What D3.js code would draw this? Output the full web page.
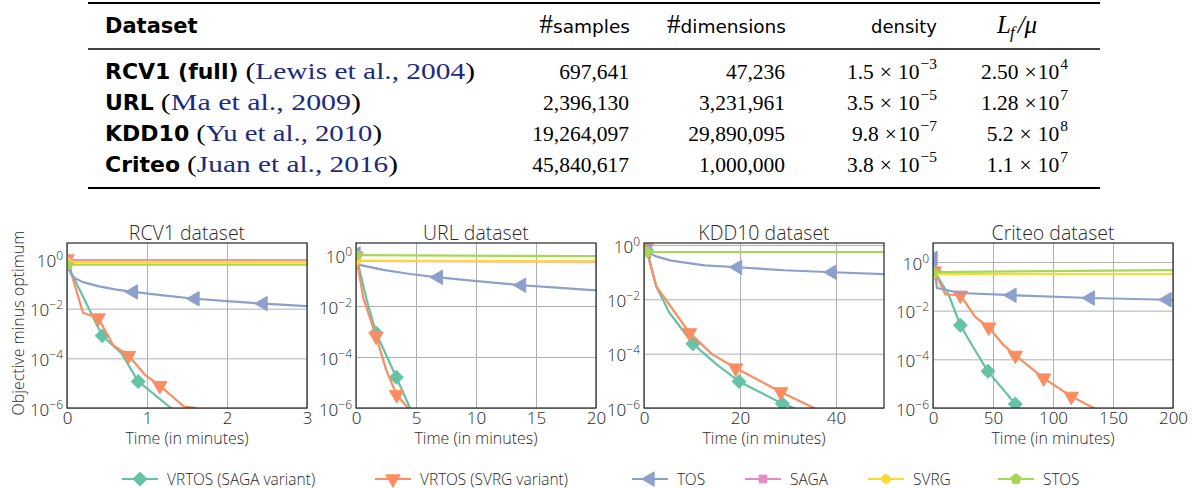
<!DOCTYPE html>
<html><head><meta charset="utf-8">
<script src="https://cdn.jsdelivr.net/npm/d3@7"></script>
<style>
body{margin:0;background:#fff;}
svg{display:block;}
</style></head>
<body><svg id="c" width="1192" height="488"></svg>
<script>
// ================= DATA =================
// ---- table ----
const tableHeaders = ["Dataset", "samples", "dimensions", "density", "Lf/mu"];
const datasetNames = ["RCV1 (full)", "URL", "KDD10", "Criteo"];
const citeAuthors = ["Lewis et al.", "Ma et al.", "Yu et al.", "Juan et al."];
const citeYears = ["2004", "2009", "2010", "2016"];
const nSamples = ["697,641", "2,396,130", "19,264,097", "45,840,617"];
const nDimensions = ["47,236", "3,231,961", "29,890,095", "1,000,000"];
const densityMant = ["1.5", "3.5", "9.8", "3.8"];
const densitySpaced = [true, true, false, true];
const densityExp = ["−3", "−5", "−7", "−5"];
const condMant = ["2.50", "1.28", "5.2", "1.1"];
const condSpaced = [false, false, true, true];
const condExp = ["4", "7", "8", "7"];

// ---- plots ----
const plotTitles = ["RCV1 dataset", "URL dataset", "KDD10 dataset", "Criteo dataset"];
const xMax = [3, 20, 50, 200];
const xTicks = [[0, 1, 2, 3], [0, 5, 10, 15, 20], [0, 20, 40], [0, 50, 100, 150, 200]];
const yTop = [4.4, 2.95, 1.18, 6.0];
const yTicks = [1, 1e-2, 1e-4, 1e-6];
const yTickExp = ["0", "−2", "−4", "−6"];
const seriesNames = ["VRTOS (SAGA variant)", "VRTOS (SVRG variant)", "TOS", "SAGA", "SVRG", "STOS"];

// [time in minutes, objective minus optimum]
const rcv1VrtosSaga = [[0, 0.63], [0.44, 8.1e-4], [0.68, 1.6e-4], [0.89, 1.17e-5], [1.3, 1.0e-6], [1.4, 4e-7]];
const rcv1VrtosSvrg = [[0, 1.0], [0.2, 6.8e-3], [0.39, 4.2e-3], [0.58, 3.3e-4], [0.77, 1.3e-4], [0.98, 2.1e-5], [1.16, 7.9e-6], [1.46, 1.15e-6], [1.62, 1.0e-6]];
const rcv1Tos = [[0, 0.59], [0.05, 0.25], [0.1, 0.166], [0.2, 0.117], [0.4, 0.079], [0.6, 0.060], [0.83, 0.047], [1.2, 0.034], [1.6, 0.025], [2.0, 0.020], [2.45, 0.016], [3.0, 0.0126]];
const rcv1Saga = [[0, 0.84], [3, 0.83]];
const rcv1Svrg = [[0, 0.77], [3, 0.77]];
const rcv1Stos = [[0, 0.59], [3, 0.59]];

const urlVrtosSaga = [[0, 1.0], [0.89, 0.0174], [1.67, 8.7e-4], [3.36, 1.6e-5], [4.5, 1.0e-6], [4.8, 4e-7]];
const urlVrtosSvrg = [[0, 0.9], [0.61, 0.0204], [1.67, 6.5e-4], [2.53, 3.0e-5], [3.39, 3.3e-6], [4.33, 1.0e-6], [4.6, 5e-7]];
const urlTos = [[0, 1.1], [0.19, 0.42], [2.28, 0.26], [4.5, 0.18], [6.86, 0.133], [10.3, 0.093], [13.8, 0.065], [17, 0.051], [20, 0.041]];
const urlSaga = [[0, 0.58], [20, 0.55]];
const urlSvrg = [[0, 0.6], [20, 0.56]];
const urlStos = [[0, 0.98], [20, 0.9]];

const kddVrtosSaga = [[0.48, 0.67], [2.55, 0.030], [5.3, 3.2e-3], [10.2, 2.3e-4], [15, 4.2e-5], [19.8, 9.5e-6], [28.8, 1.45e-6], [31.2, 1.0e-6], [33, 6e-7]];
const kddVrtosSvrg = [[0.48, 0.78], [2.55, 0.030], [5.3, 6.3e-3], [9.47, 5.8e-4], [14.3, 9.2e-5], [19.1, 2.95e-5], [28.5, 3.9e-6], [35.4, 1.0e-6], [37, 7e-7]];
const kddTos = [[0.48, 0.59], [2.5, 0.38], [5.66, 0.264], [12.6, 0.178], [19.5, 0.151], [29.2, 0.117], [39.2, 0.099], [50, 0.085]];
const kddSaga = [[0.48, 0.55], [50, 0.55]];
const kddSvrg = [[0.48, 0.55], [50, 0.55]];
const kddStos = [[0.48, 0.55], [50, 0.55]];

const criVrtosSaga = [[1, 0.42], [13, 0.046], [22.8, 2.5e-3], [33.9, 2.9e-4], [45.8, 3.2e-5], [68.6, 1.45e-6], [71.4, 1.0e-6], [74, 6e-7]];
const criVrtosSvrg = [[1, 0.42], [10.3, 0.046], [22.8, 0.043], [35.3, 5.4e-3], [46.4, 2.1e-3], [58.9, 3.8e-4], [68.6, 1.45e-4], [92.2, 1.7e-5], [115.3, 3.0e-6], [133.9, 1.0e-6], [140, 6e-7]];
const criTos = [[0, 1.4], [2, 0.3], [3.3, 0.085], [22.8, 0.053], [65.8, 0.043], [131, 0.033], [195, 0.028], [200, 0.0277]];
const criSaga = [[0, 0.32], [200, 0.32]];
const criSvrg = [[0, 0.32], [200, 0.32]];
const criStos = [[0, 0.38], [200, 0.46]];

// indices of points that carry a marker (markevery)
const marksRcv1 = [[0, 1, 3], [0, 2, 4, 6], [0, 6, 8, 10], [0], [0], [0]];
const marksUrl = [[0, 2, 3], [0, 2, 4], [0, 4, 6], [0], [0], [0]];
const marksKdd = [[0, 3, 5, 6], [0, 3, 5, 6], [0, 4, 6], [0], [0], [0]];
const marksCri = [[0, 2, 4, 5], [0, 2, 4, 6, 7, 8], [0, 4, 5, 6], [0], [0], [0]];

const plotSeries = [
  [rcv1VrtosSaga, rcv1VrtosSvrg, rcv1Tos, rcv1Saga, rcv1Svrg, rcv1Stos],
  [urlVrtosSaga, urlVrtosSvrg, urlTos, urlSaga, urlSvrg, urlStos],
  [kddVrtosSaga, kddVrtosSvrg, kddTos, kddSaga, kddSvrg, kddStos],
  [criVrtosSaga, criVrtosSvrg, criTos, criSaga, criSvrg, criStos]
];
const plotMarks = [marksRcv1, marksUrl, marksKdd, marksCri];

// ================= STYLE / LAYOUT =================
const colors = ["#66c2a5", "#fc8d62", "#8da0cb", "#e78ac3", "#ffd92f", "#a6d854"];
const FONT = "'Open Sans Light', 'Open Sans', 'Noto Sans', sans-serif";
const SERIF = "'Liberation Serif', 'DejaVu Serif', serif";
const SANS = "'DejaVu Sans', sans-serif";
const CITE = "#1d2a80";
const TXT = "#2a2a2a";

const svg = d3.select("#c");

// ---------- table ----------
const tbl = svg.append("g");
const ruleX0 = 88, ruleX1 = 1100;
tbl.append("line").attr("x1", ruleX0).attr("x2", ruleX1).attr("y1", 3).attr("y2", 3).attr("stroke", "#000").attr("stroke-width", 2.2);
tbl.append("line").attr("x1", ruleX0).attr("x2", ruleX1).attr("y1", 49).attr("y2", 49).attr("stroke", "#000").attr("stroke-width", 1.3);
tbl.append("line").attr("x1", ruleX0).attr("x2", ruleX1).attr("y1", 188).attr("y2", 188).attr("stroke", "#000").attr("stroke-width", 2.2);

const headY = 33;
tbl.append("text").attr("x", 105).attr("y", headY).attr("font-family", SANS).attr("font-weight", "bold")
  .attr("font-size", 21).attr("fill", "#000").text(tableHeaders[0]);
function hashHeader(xEnd, word) {
  const t = tbl.append("text").attr("x", xEnd).attr("y", headY).attr("text-anchor", "end").attr("fill", "#000");
  t.append("tspan").attr("font-family", SERIF).attr("font-size", 27).text("#");
  t.append("tspan").attr("font-family", SANS).attr("font-size", 18.5).text(word);
}
hashHeader(630, tableHeaders[1]);
hashHeader(786, tableHeaders[2]);
tbl.append("text").attr("x", 937).attr("y", headY).attr("text-anchor", "end").attr("font-family", SANS)
  .attr("font-size", 18).attr("fill", "#000").text(tableHeaders[3]);
{
  const t = tbl.append("text").attr("x", 997).attr("y", headY)
    .attr("font-family", SERIF).attr("font-style", "italic").attr("font-size", 25).attr("fill", "#000");
  t.append("tspan").text("L");
  t.append("tspan").attr("font-size", 17).attr("dy", 5).attr("dx", -1).text("f");
  t.append("tspan").attr("dy", -5).attr("dx", 3).text("/μ");
}
const rowY = [79, 110, 141, 172];
const citeRight = [475, 361, 382, 398];
const NUMSZ = 21.5;
datasetNames.forEach((nm, i) => {
  const n = tbl.append("text").attr("x", 105).attr("y", rowY[i]).attr("fill", "#000")
    .attr("font-family", SANS).attr("font-weight", "bold").attr("font-size", 22).text(nm);
  const nx = 105 + n.node().getComputedTextLength() + 7;
  const t = tbl.append("text").attr("x", nx).attr("y", rowY[i]).attr("font-family", SERIF).attr("font-size", 23)
    .attr("textLength", citeRight[i] - nx).attr("lengthAdjust", "spacingAndGlyphs");
  const s = (txt, col) => t.append("tspan").attr("fill", col).text(txt);
  s("(", "#000"); s(citeAuthors[i], CITE); s(", ", CITE); s(citeYears[i], CITE); s(")", "#000");

  tbl.append("text").attr("x", 629).attr("y", rowY[i]).attr("text-anchor", "end").attr("font-family", SERIF)
    .attr("font-size", NUMSZ).attr("fill", "#000").text(nSamples[i]);
  tbl.append("text").attr("x", 785).attr("y", rowY[i]).attr("text-anchor", "end").attr("font-family", SERIF)
    .attr("font-size", NUMSZ).attr("fill", "#000").text(nDimensions[i]);

  const sci = (xEnd, mant, spaced, ex) => {
    const d = tbl.append("text").attr("x", xEnd).attr("y", rowY[i]).attr("text-anchor", "end").attr("font-family", SERIF)
      .attr("font-size", NUMSZ).attr("fill", "#000");
    d.append("tspan").text(mant);
    d.append("tspan").attr("dx", 6).text("×");
    d.append("tspan").attr("dx", spaced ? 6 : 1).text("10");
    d.append("tspan").attr("font-size", 15.5).attr("dy", -10).attr("dx", 1).text(ex);
  };
  sci(937, densityMant[i], densitySpaced[i], densityExp[i]);
  sci(1068, condMant[i], condSpaced[i], condExp[i]);
});

// ---------- plots ----------
const lefts = [67, 356, 644, 933];
const PW = 240, PT = 243, PB = 408;

function markerPath(k) {
  if (k === 0) return d3.symbol(d3.symbolSquare, 92)();           // rotated -> diamond
  if (k === 1 || k === 2) return d3.symbol(d3.symbolTriangle, 90)();
  if (k === 3) return d3.symbol(d3.symbolSquare, 60)();
  if (k === 4) return d3.symbol(d3.symbolCircle, 60)();
  const r = 5.4;   // pentagon
  const pts = d3.range(5).map(j => { const a = -Math.PI / 2 + j * 2 * Math.PI / 5; return [r * Math.cos(a), r * Math.sin(a)]; });
  return "M" + pts.map(p => p.join(",")).join("L") + "Z";
}
const markerRot = [45, 180, -90, 0, 0, 0];

plotTitles.forEach((title, i) => {
  const g = svg.append("g");
  const x = d3.scaleLinear().domain([0, xMax[i]]).range([lefts[i], lefts[i] + PW]);
  const y = d3.scaleLog().domain([1e-6, yTop[i]]).range([PB, PT]);

  // grid
  g.append("g").attr("transform", `translate(0,${PB})`)
    .call(d3.axisBottom(x).tickValues(xTicks[i]).tickSize(-(PB - PT)).tickFormat(""))
    .call(a => a.select(".domain").remove())
    .call(a => a.selectAll("line").attr("stroke", "#b0b0b0").attr("stroke-width", 1));
  g.append("g").attr("transform", `translate(${lefts[i]},0)`)
    .call(d3.axisLeft(y).tickValues(yTicks).tickSize(-PW).tickFormat(""))
    .call(a => a.select(".domain").remove())
    .call(a => a.selectAll("line").attr("stroke", "#b0b0b0").attr("stroke-width", 1));

  const clipId = "clip" + i;
  svg.append("clipPath").attr("id", clipId).append("rect")
    .attr("x", lefts[i]).attr("y", PT).attr("width", PW).attr("height", PB - PT);
  const data = g.append("g").attr("clip-path", `url(#${clipId})`);
  const line = d3.line().x(d => x(d[0])).y(d => y(d[1]));

  plotSeries[i].forEach((ser, k) => {
    data.append("path").attr("d", line(ser)).attr("fill", "none").attr("stroke", colors[k])
      .attr("stroke-width", 2.2).attr("stroke-linejoin", "round");
    plotMarks[i][k].forEach(idx => {
      const p = ser[idx];
      data.append("path").attr("d", markerPath(k))
        .attr("transform", `translate(${x(p[0])},${y(p[1])}) rotate(${markerRot[k]})`)
        .attr("fill", colors[k]).attr("stroke", colors[k]).attr("stroke-width", 1);
    });
  });

  // frame
  g.append("rect").attr("x", lefts[i]).attr("y", PT).attr("width", PW).attr("height", PB - PT)
    .attr("fill", "none").attr("stroke", "#262626").attr("stroke-width", 1.2);

  // tick labels
  g.append("g").attr("transform", `translate(0,${PB})`)
    .call(d3.axisBottom(x).tickValues(xTicks[i]).tickSize(0).tickPadding(4).tickFormat(d3.format("d")))
    .call(a => a.select(".domain").remove())
    .call(a => a.selectAll("text").attr("font-family", FONT).attr("font-weight", 300)
      .attr("font-size", 17).attr("fill", TXT));
  const ya = g.append("g").attr("transform", `translate(${lefts[i]},0)`)
    .call(d3.axisLeft(y).tickValues(yTicks).tickSize(0).tickPadding(4).tickFormat(""));
  ya.select(".domain").remove();
  ya.selectAll("text").each(function (d, j) {
    const t = d3.select(this).attr("font-family", FONT).attr("font-weight", 300)
      .attr("font-size", 17).attr("fill", TXT).attr("dy", "0.42em");
    t.append("tspan").text("10");
    t.append("tspan").attr("font-size", 12).attr("dy", -7).text(yTickExp[j]);
  });

  // title & x label
  g.append("text").attr("x", lefts[i] + PW / 2).attr("y", PT - 3).attr("text-anchor", "middle")
    .attr("font-family", FONT).attr("font-weight", 300).attr("font-size", 19.5).attr("fill", TXT).text(title);
  g.append("text").attr("x", lefts[i] + PW / 2).attr("y", 444).attr("text-anchor", "middle")
    .attr("font-family", FONT).attr("font-weight", 300).attr("font-size", 16).attr("fill", TXT).text("Time (in minutes)");
});

svg.append("text").attr("transform", "translate(24,323) rotate(-90)").attr("text-anchor", "middle")
  .attr("font-family", FONT).attr("font-weight", 300).attr("font-size", 16).attr("fill", TXT)
  .text("Objective minus optimum");

// ---------- legend ----------
const legMarkX = [140, 393, 650, 763, 886, 1016];
const legY = 479;
seriesNames.forEach((nm, k) => {
  const lg = svg.append("g");
  lg.append("line").attr("x1", legMarkX[k] - 18).attr("x2", legMarkX[k] + 18).attr("y1", legY).attr("y2", legY)
    .attr("stroke", colors[k]).attr("stroke-width", 2);
  lg.append("path").attr("d", markerPath(k)).attr("transform", `translate(${legMarkX[k]},${legY}) rotate(${markerRot[k]})`)
    .attr("fill", colors[k]).attr("stroke", colors[k]);
  lg.append("text").attr("x", legMarkX[k] + 27).attr("y", legY + 5.5).attr("font-family", FONT).attr("font-weight", 300)
    .attr("font-size", 15.5).attr("fill", TXT).text(nm);
});
</script>
</body></html>
